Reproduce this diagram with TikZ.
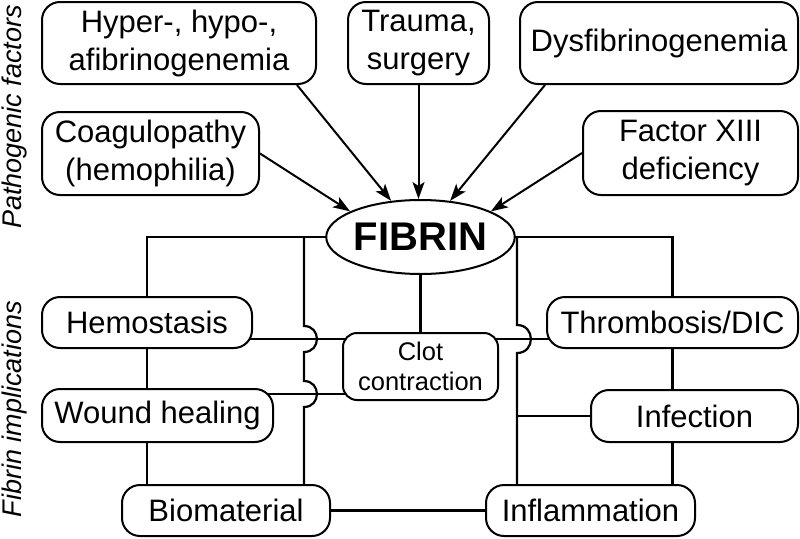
\documentclass[tikz,border=0pt]{standalone}
\usepackage{fontspec}
\setmainfont{Liberation Sans}
\usetikzlibrary{arrows.meta,shapes.geometric,backgrounds}
\begin{document}
\begin{tikzpicture}[x=1pt,y=-1pt,
  box/.style={draw, line width=2pt, rounded corners=18pt, fill=white, align=center, inner sep=0pt, font=\fontsize{31}{38}\selectfont},
  smallbox/.style={box, rounded corners=14pt, font=\fontsize{25.5}{30}\selectfont},
  conn/.style={line width=2.2pt},
  arr/.style={line width=2pt, -{Stealth[length=17pt,width=12pt,inset=4pt]}},
  side/.style={rotate=90, font=\itshape\fontsize{27}{32}\selectfont, anchor=base}
]
\useasboundingbox (0,0) rectangle (800,538);

% side labels
\node[side] (lab1) at (21,117) {Pathogenic factors};
\node[side] (lab2) at (21,409) {Fibrin implications};

% pathogenic factors
\node[box, minimum width=274pt, minimum height=82pt] (hyper) at (179,43) {Hyper-, hypo-,\\afibrinogenemia};
\node[box, minimum width=141pt, minimum height=82pt] (trauma) at (418.5,43) {Trauma,\\surgery};
\node[box, minimum width=278pt, minimum height=82pt] (dysf) at (659,43) {Dysfibrinogenemia};
\node[box, minimum width=217pt, minimum height=83pt] (coag) at (150.5,153.5) {Coagulopathy\\(hemophilia)};
\node[box, minimum width=215pt, minimum height=84pt] (f13) at (690.5,153) {Factor XIII\\deficiency};

% fibrin
\node[ellipse, draw, line width=2pt, fill=white, inner sep=0pt, minimum width=175pt, minimum height=74pt, font=\bfseries\fontsize{40}{48}\selectfont] (fibrin) at (420.5,237) {FIBRIN};

% implications
\node[box, minimum width=210pt, minimum height=51pt] (hemo) at (147,322.5) {Hemostasis};
\node[smallbox, minimum width=155pt, minimum height=67pt] (clot) at (420.5,366.5) {Clot\\contraction};
\node[box, minimum width=251pt, minimum height=51pt] (thromb) at (672.5,322.5) {Thrombosis/DIC};
\node[box, minimum width=231pt, minimum height=53pt] (wound) at (157.5,415.5) {Wound healing};
\node[box, minimum width=207pt, minimum height=52pt] (infection) at (694.5,416) {Infection};
\node[box, minimum width=208pt, minimum height=51pt] (bio) at (226,510.5) {Biomaterial};
\node[box, minimum width=209pt, minimum height=51pt] (inflam) at (590.5,510.5) {Inflammation};

% junction coordinates
\coordinate (jL) at (304,237);
\coordinate (jR) at (517,237);
\coordinate (hy) at (0,339);
\coordinate (wy) at (0,394);

\begin{scope}[on background layer]
  \draw[conn] (fibrin.center) -| (hemo.center);
  \draw[conn] (hemo.center) -- (hemo.center |- bio.center);
  \draw[conn] (jL) -- (304,326) to[out=0,in=0,looseness=1.7] (304,352)
              -- (304,381) to[out=0,in=0,looseness=1.7] (304,407)
              -- (jL |- bio.center);
  \draw[conn] (hemo.center |- hy) -- (thromb.center |- hy);
  \draw[conn] (wound.center |- wy) -- (clot.center |- wy);
  \draw[conn] (fibrin.center) -- (clot.center);
  \draw[conn] (fibrin.center) -| (thromb.center);
  \draw[conn] (thromb.center) -- (thromb.center |- inflam.center);
  \draw[conn] (jR) -- (517,325) to[out=0,in=0,looseness=1.7] (517,353)
              -- (jR |- inflam.center);
  \draw[conn] (jR |- infection.center) -- (infection.center);
  \draw[conn] (bio.center) -- (inflam.center);
\end{scope}

% arrows
\draw[arr] ([xshift=118pt]hyper.south) -- (fibrin);
\draw[arr] (coag.east) -- (fibrin.160);
\draw[arr] (trauma.south) -- (trauma.south |- fibrin.north);
\draw[arr] ([xshift=-114pt]dysf.south) -- (fibrin);
\draw[arr] (f13.west) -- (fibrin.20);
\end{tikzpicture}
\end{document}
